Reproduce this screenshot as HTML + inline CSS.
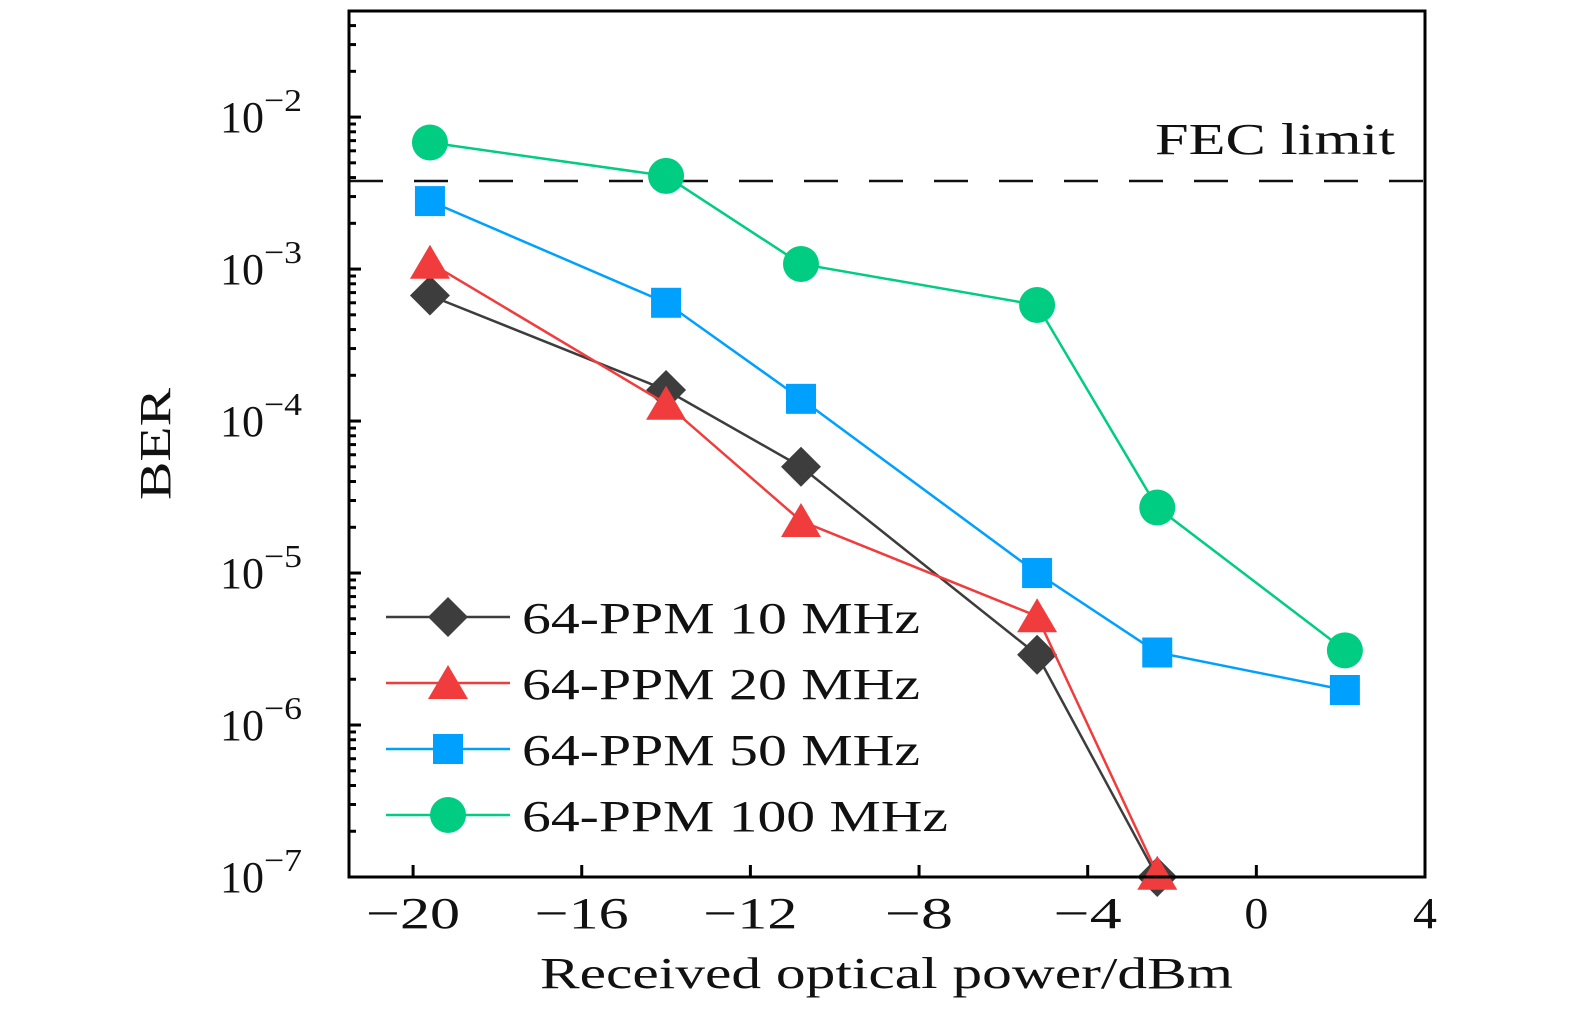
<!DOCTYPE html>
<html><head><meta charset="utf-8"><style>
body{margin:0;background:#fff;}
svg text{font-family:"Liberation Serif",serif;fill:#111;}
</style></head><body>
<svg id="chart" width="1575" height="1014" xmlns="http://www.w3.org/2000/svg">
<g id="grid"></g>
<g id="series"></g>
<g id="axes"></g>
<g id="legend"></g>
</svg>
<script>
const xValues = [-19.6, -14.0, -10.8, -5.2, -2.35, 2.1];
const ber10 = [6.7e-4, 1.6e-4, 5e-5, 2.9e-6, 1e-7];
const ber20 = [1.1e-3, 1.3e-4, 2.2e-5, 5.2e-6, 1.05e-7];
const ber50 = [2.8e-3, 6e-4, 1.4e-4, 1e-5, 3e-6, 1.7e-6];
const ber100 = [6.8e-3, 4.1e-3, 1.08e-3, 5.8e-4, 2.7e-5, 3.1e-6];
const fecLimit = 3.8e-3;
const xTicks = [-20, -16, -12, -8, -4, 0, 4];
const yTicks = [-7, -6, -5, -4, -3, -2];
const seriesNames = ["64-PPM 10 MHz", "64-PPM 20 MHz", "64-PPM 50 MHz", "64-PPM 100 MHz"];

const L = 349, R = 1425, T = 11, B = 877;
const xMin = -21.52, xMax = 4;
const yMin = -7, yMax = -1.302;
const sx = v => L + (v - xMin) / (xMax - xMin) * (R - L);
const sy = v => B - (Math.log10(v) - yMin) / (yMax - yMin) * (B - T);
const NS = "http://www.w3.org/2000/svg";
function mk(parent, tag, attrs) {
  const e = document.createElementNS(NS, tag);
  for (const k in attrs) e.setAttribute(k, attrs[k]);
  parent.appendChild(e);
  return e;
}
const gS = document.getElementById('series'), gA = document.getElementById('axes'), gL = document.getElementById('legend');

const fec = mk(gS, 'line', {x1: L, x2: R, y1: sy(fecLimit), y2: sy(fecLimit), stroke: '#111', 'stroke-width': 2.5, 'stroke-dasharray': '34 31'});


const ft = mk(gS, 'text', {x: 1155, y: 154, 'font-size': 44, textLength: 240, lengthAdjust: 'spacingAndGlyphs'});
ft.textContent = 'FEC limit';



function marker(g, type, x, y, color) {
  let e;
  if (type === 'diamond') e = mk(g, 'polygon', {points: `${x},${y-20} ${x+20},${y} ${x},${y+20} ${x-20},${y}`, fill: color});
  else if (type === 'triangle') e = mk(g, 'polygon', {points: `${x},${y-18} ${x+20},${y+16} ${x-20},${y+16}`, fill: color});
  else if (type === 'square') e = mk(g, 'rect', {x: x-15, y: y-15, width: 30, height: 30, fill: color});
  else e = mk(g, 'circle', {cx: x, cy: y, r: 18, fill: color});
  return e;
}
const seriesData = [ber10, ber20, ber50, ber100];
const colors = ['#3d3d3d', '#f03c3c', '#00a0ff', '#00cd82'];
const types = ['diamond', 'triangle', 'square', 'circle'];
seriesData.forEach((d, i) => {
  const g = mk(gS, 'g', {});
  
  
  const pts = d.map((v, j) => sx(xValues[j]) + ',' + sy(v)).join(' ');
  const pl = mk(g, 'polyline', {points: pts, fill: 'none', stroke: colors[i], 'stroke-width': 2.5});
  
  
  d.forEach((v, j) => {
    const m = marker(g, types[i], sx(xValues[j]), sy(v), colors[i]);
    
    
  });
});

const frame = mk(gA, 'rect', {x: L, y: T, width: R - L, height: B - T, fill: 'none', stroke: '#000', 'stroke-width': 3});


xTicks.forEach(t => {
  const x = sx(t);
  mk(gA, 'line', {x1: x, x2: x, y1: B, y2: B - 12, stroke: '#000', 'stroke-width': 3});
  const s = t < 0 ? '\u2212' + Math.abs(t) : String(t);
  const w = s.length === 3 ? 94 : (s.length === 2 ? 68 : 24);
  const tx = mk(gA, 'text', {x: x - w / 2, y: 928, 'font-size': 44, textLength: w, lengthAdjust: 'spacingAndGlyphs'});
  tx.textContent = s;
  
  
});
yTicks.forEach(p => {
  const y = sy(Math.pow(10, p));
  mk(gA, 'line', {x1: L, x2: L + 12, y1: y, y2: y, stroke: '#000', 'stroke-width': 3});
  const tx = mk(gA, 'text', {x: 220, y: y + 15, 'font-size': 44, textLength: 44, lengthAdjust: 'spacingAndGlyphs'});
  tx.textContent = '10';
  
  
  const ex = mk(gA, 'text', {x: 264, y: y - 6, 'font-size': 32, textLength: 38, lengthAdjust: 'spacingAndGlyphs'});
  ex.textContent = '\u2212' + Math.abs(p);
  
  
});
for (let p = -7; p <= -2; p++) {
  for (let k = 2; k <= 9; k++) {
    const v = k * Math.pow(10, p);
    if (Math.log10(v) > yMax) continue;
    const y = sy(v);
    mk(gA, 'line', {x1: L, x2: L + 7, y1: y, y2: y, stroke: '#000', 'stroke-width': 3});
  }
}
const xt = mk(gA, 'text', {x: 540, y: 988, 'font-size': 44, textLength: 693, lengthAdjust: 'spacingAndGlyphs'});
xt.textContent = 'Received optical power/dBm';


const yt = mk(gA, 'text', {x: 170, y: 500, 'font-size': 44, textLength: 112, lengthAdjust: 'spacingAndGlyphs', transform: 'rotate(-90 170 500)'});
yt.textContent = 'BER';



const legendW = [398, 398, 398, 426];
seriesNames.forEach((n, i) => {
  const y = 617 + i * 66;
  const g = mk(gL, 'g', {});
  
  
  mk(g, 'line', {x1: 386, x2: 510, y1: y, y2: y, stroke: colors[i], 'stroke-width': 2.5});
  marker(g, types[i], 448, y, colors[i]);
  const t = mk(g, 'text', {x: 522, y: y + 16, 'font-size': 44, textLength: legendW[i], lengthAdjust: 'spacingAndGlyphs'});
  t.textContent = n;
});
</script>
</body></html>
